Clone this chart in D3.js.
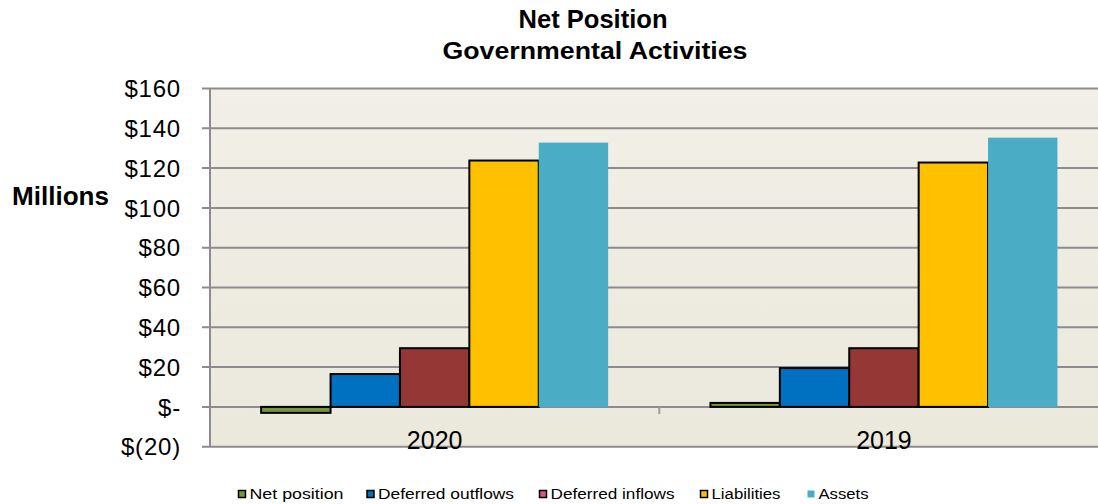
<!DOCTYPE html>
<html><head><meta charset="utf-8">
<script src="https://cdn.jsdelivr.net/npm/d3@7"></script>
<style>body{margin:0;background:#fff}svg{display:block}text{font-family:Arial,"Liberation Sans",sans-serif}</style>
</head><body><svg id="c" width="1098" height="504"></svg>
<script>
const categories = ["2020", "2019"];
const seriesNames = ["Net position", "Deferred outflows", "Deferred inflows", "Liabilities", "Assets"];
const netPosition = [-3, 2];
const deferredOutflows = [16.5, 19.5];
const deferredInflows = [29.5, 29.5];
const liabilities = [123.8, 122.8];
const assets = [132.8, 135.3];
const yTicks = [-20, 0, 20, 40, 60, 80, 100, 120, 140, 160];
const yTickLabels = ["$(20)", "$-", "$20", "$40", "$60", "$80", "$100", "$120", "$140", "$160"];
const barColors = ["#77933c", "#0070c0", "#953735", "#ffc000", "#4bacc6"];
const legendColors = ["#77933c", "#0070c0", "#d9558c", "#ffc000", "#4bacc6"];
const bordered = [true, true, true, true, false];

const values = [netPosition, deferredOutflows, deferredInflows, liabilities, assets];
const svg = d3.select("#c");
const L = 210, R = 1108.6, T = 88.5, B = 446.7;

const y = d3.scaleLinear().domain([-20, 160]).range([B, T]);
const x0 = d3.scaleBand().domain(categories).range([L, R]).paddingInner(0).paddingOuter(0);
const x1 = d3.scaleBand().domain(seriesNames).range([0, x0.bandwidth()]).paddingOuter(0.737).paddingInner(0);

const defs = svg.append("defs");
const gr = defs.append("linearGradient").attr("id","bg").attr("x1",0).attr("x2",0).attr("y1",0).attr("y2",1);
gr.append("stop").attr("offset","0%").attr("stop-color","#f1efe7");
gr.append("stop").attr("offset","100%").attr("stop-color","#ebe9dc");
svg.append("rect").attr("x", L).attr("y", T).attr("width", R - L).attr("height", B - T).attr("fill", "url(#bg)");

// gridlines
svg.append("g").selectAll("line").data(yTicks).join("line")
  .attr("x1", L - 8).attr("x2", R).attr("y1", d => y(d)).attr("y2", d => y(d))
  .attr("stroke", "#8c8c8c").attr("stroke-width", 2);
svg.append("line").attr("x1", L).attr("x2", L).attr("y1", T).attr("y2", B).attr("stroke", "#8c8c8c").attr("stroke-width", 2);

// y labels
svg.append("g").selectAll("text").data(yTicks).join("text")
  .attr("x", 181).attr("y", d => y(d)).attr("dy", "0.36em").attr("text-anchor", "end")
  .attr("font-size", 24).attr("letter-spacing", 0.8).attr("fill", "#000").text((d, i) => yTickLabels[i]);

// category divider tick
svg.append("line").attr("x1", x0("2019")).attr("x2", x0("2019")).attr("y1", y(0)).attr("y2", y(0) + 7)
  .attr("stroke", "#9a9a9a").attr("stroke-width", 2);

// bars
const groups = svg.append("g").selectAll("g").data(categories).join("g")
  .attr("transform", d => `translate(${x0(d)},0)`);
groups.selectAll("rect").data((c, ci) => seriesNames.map((s, si) => ({s, si, v: values[si][ci]}))).join("rect")
  .attr("x", d => x1(d.s)).attr("width", x1.bandwidth())
  .attr("y", d => y(Math.max(0, d.v))).attr("height", d => Math.abs(y(d.v) - y(0)))
  .attr("fill", d => barColors[d.si])
  .attr("stroke", d => bordered[d.si] ? "#000" : "none").attr("stroke-width", 2);

// category labels
svg.append("g").selectAll("text").data(categories).join("text")
  .attr("x", d => x0(d) + x0.bandwidth() / 2).attr("y", 449)
  .attr("text-anchor", "middle").attr("font-size", 25).text(d => d);

// title
svg.append("text").attr("x", 593).attr("y", 28.3).attr("text-anchor", "middle")
  .attr("font-size", 25).attr("font-weight", "bold").attr("textLength", 149).attr("lengthAdjust", "spacingAndGlyphs").text("Net Position");
svg.append("text").attr("x", 595).attr("y", 59).attr("text-anchor", "middle")
  .attr("font-size", 23).attr("font-weight", "bold").attr("textLength", 305).attr("lengthAdjust", "spacingAndGlyphs").text("Governmental Activities");
svg.append("text").attr("x", 12).attr("y", 205)
  .attr("font-size", 25).attr("font-weight", "bold").attr("textLength", 97).attr("lengthAdjust", "spacingAndGlyphs").text("Millions");

// legend
const legendX = [238, 366.5, 539, 700, 807];
const legendW = [94, 136, 124, 69, 50];
const lg = svg.append("g").selectAll("g").data(seriesNames).join("g")
  .attr("transform", (d, i) => `translate(${legendX[i]},494)`);
lg.append("rect").attr("x", 0.5).attr("y", -3.5).attr("width", 7).attr("height", 7)
  .attr("fill", (d, i) => legendColors[i]).attr("stroke", (d, i) => bordered[i] ? "#000" : "none").attr("stroke-width", 1.5);
lg.append("text").attr("x", 11.5).attr("y", 5)
  .attr("font-size", 14).attr("textLength", (d, i) => legendW[i]).attr("lengthAdjust", "spacingAndGlyphs").text(d => d);
</script></body></html>
